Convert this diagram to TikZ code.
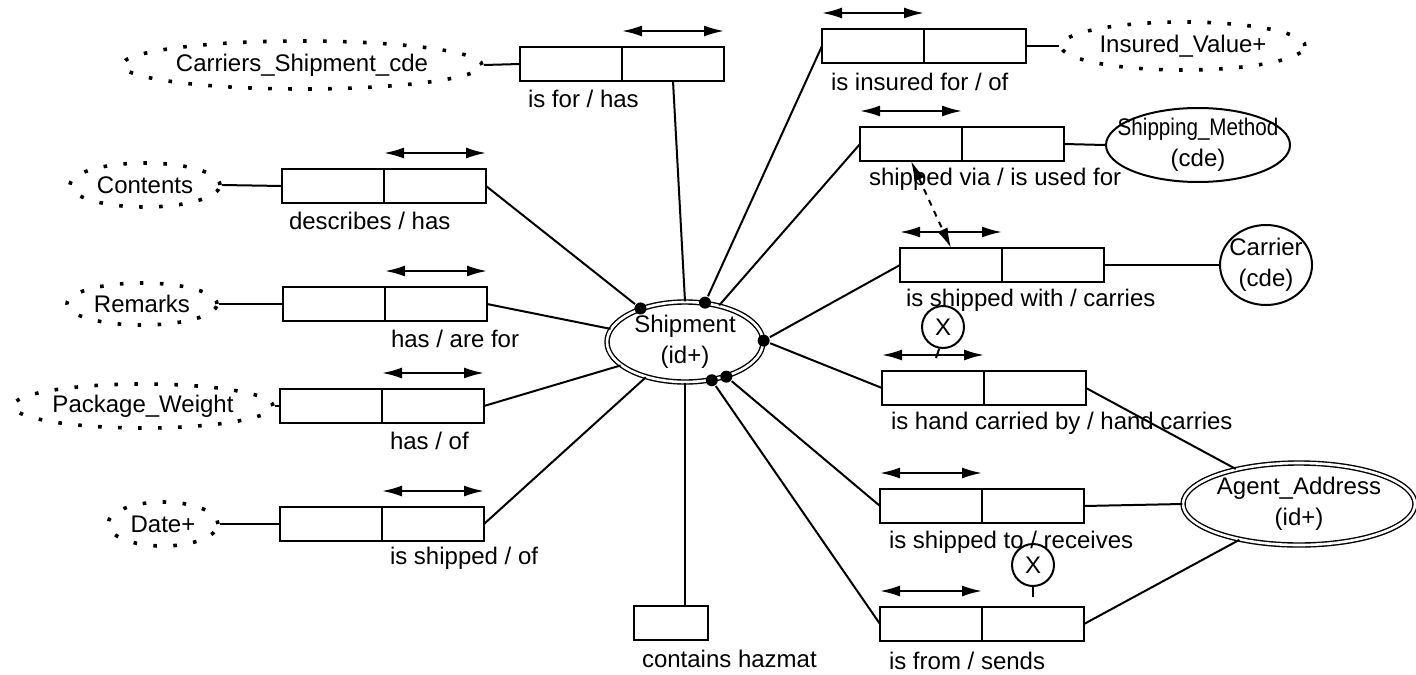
\documentclass[tikz,border=0pt]{standalone}
\usepackage{fontspec}
\setmainfont{Liberation Sans}
\newfontfamily\narrowfont{Liberation Sans}[FakeStretch=0.86]
\usetikzlibrary{shapes.geometric,arrows.meta}
\newcommand{\RelBox}[3]{%
  \node[half, anchor=north west] (#1l) at (#2,#3) {};
  \node[half, anchor=west] (#1r) at (#1l.east) {};}
\newcommand{\ArrR}[1]{\draw[dbl] ([yshift=8pt]#1r.north west) -- ([yshift=8pt]#1r.north east);}
\newcommand{\ArrL}[1]{\draw[dbl] ([yshift=8pt]#1l.north west) -- ([yshift=8pt]#1l.north east);}
\begin{document}
\begin{tikzpicture}[x=0.5pt,y=-0.5pt,line width=1pt,
  font=\fontsize{12}{15.5}\selectfont,
  half/.style={draw, line width=1pt, minimum width=51pt, minimum height=17pt, inner sep=0pt, outer sep=0pt},
  dotent/.style={ellipse, draw, line width=1.8pt, dash pattern=on 1.8pt off 8.2pt, inner sep=0pt},
  ent/.style={ellipse, draw, line width=1pt, inner sep=0pt},
  kent/.style={ellipse, draw, double, line width=0.7pt, double distance=1.3pt, inner sep=0pt},
  txt/.style={align=center, inner sep=0pt},
  dbl/.style={{Latex[length=10pt,width=5.5pt]}-{Latex[length=10pt,width=5.5pt]}, line width=1pt},
  lbl/.style={anchor=west, inner sep=0pt},
  dot/.style={circle, fill, inner sep=0pt, minimum size=6pt},
  xc/.style={circle, draw, line width=1pt, minimum size=21pt, inner sep=0pt},
]
\useasboundingbox (0,0) rectangle (1416,674);

% central entity
\node[kent, minimum width=78pt, minimum height=40pt] (ship) at (685,342) {};
\node[txt] (shipt) at (ship.center) {Shipment\\(id+)};
\node[dot] (d1) at (ship.143) {};
\node[dot] (d2) at (ship.63) {};
\node[dot] (d3) at (ship.1) {};
\node[dot] (d4) at (ship.-55) {};
\node[dot] (d5) at (ship.-40) {};

% attribute entities
\node[dotent, minimum width=180pt, minimum height=24pt] (csc) at (302,65) {};
\node[txt] (csct) at (csc.center) {Carriers\_Shipment\_cde};
\node[dotent, minimum width=75pt, minimum height=22pt] (cont) at (145,185) {};
\node[txt] (contt) at (cont.center) {Contents};
\node[dotent, minimum width=75pt, minimum height=21pt] (rem) at (142,304) {};
\node[txt] (remt) at (rem.center) {Remarks};
\node[dotent, minimum width=130pt, minimum height=22pt] (pw) at (143,406) {};
\node[txt] (pwt) at (pw.center) {Package\_Weight};
\node[dotent, minimum width=55pt, minimum height=22pt] (date) at (163,524) {};
\node[txt] (datet) at (date.center) {Date+};
\node[dotent, minimum width=122pt, minimum height=24pt] (iv) at (1183,46) {};
\node[txt] (ivt) at (iv.center) {Insured\_Value+};
\node[ent, minimum width=92pt, minimum height=37pt] (sm) at (1198,145) {};
\node[txt] (smt) at (sm.center) {{\narrowfont Shipping\_Method}\\(cde)};
\node[ent, minimum width=46pt, minimum height=40pt] (car) at (1266,265) {};
\node[txt] (cart) at (car.center) {Carrier\\(cde)};
\node[kent, minimum width=116pt, minimum height=41pt] (aa) at (1299,504) {};
\node[txt] (aat) at (aa.center) {Agent\_Address\\(id+)};

% relationship boxes
\RelBox{ra}{520}{47}  \ArrR{ra}
\RelBox{rb}{282}{169} \ArrR{rb}
\RelBox{rc}{283}{287} \ArrR{rc}
\RelBox{rd}{280}{389} \ArrR{rd}
\RelBox{re}{280}{507} \ArrR{re}
\node[half, minimum width=37pt, anchor=north west] (rf) at (634,606) {};
\RelBox{rg}{822}{29}  \ArrL{rg}
\RelBox{rh}{860}{127} \ArrL{rh}
\RelBox{ri}{900}{248} \ArrL{ri}
\RelBox{rj}{882}{371} \ArrL{rj}
\RelBox{rk}{880}{489} \ArrL{rk}
\RelBox{rm}{880}{607} \ArrL{rm}

% labels
\node[lbl] (la) at (527,99) {is for / has};
\node[lbl] (lb) at (288,221) {describes / has};
\node[lbl] (lc) at (390,339) {has / are for};
\node[lbl] (ld) at (389,441) {has / of};
\node[lbl] (le) at (389,558) {is shipped / of};
\node[lbl] (lf) at (641,659) {contains hazmat};
\node[lbl] (lg) at (830,82) {is insured for / of};
\node[lbl] (lh) at (868,179) {shipped via / is used for};
\node[lbl] (li) at (905,300) {is shipped with / carries};
\node[lbl] (lj) at (890,423) {is hand carried by / hand carries};
\node[lbl] (lk) at (888,542) {is shipped to / receives};
\node[lbl] (lm) at (888,661) {is from / sends};

% connectors
\draw (csc.east) -- (ral.west);
\draw (rar.south) -- (ship.north);
\draw (cont.east) -- (rbl.west);
\draw (rbr.east) -- (d1);
\draw (rem.east) -- (rcl.west);
\draw (rcr.east) -- (ship.170);
\draw (pw.east) -- (rdl.west);
\draw (rdr.east) -- (ship.200);
\draw (date.east) -- (rel.west);
\draw (rer.east) -- (ship.222);
\draw (ship.south) -- (rf.north -| ship.south);
\draw (rgl.west) -- (d2);
\draw (rgr.east) -- (iv.west);
\draw (rhl.west) -- (ship.47);
\draw (rhr.east) -- (sm.west);
\draw (ril.west) -- (d3);
\draw (rir.east) -- (car.west);
\draw (rjl.west) -- (d3);
\draw (rjr.east) -- (aa.151);
\draw (rkl.west) -- (d5);
\draw (rkr.east) -- (aa.west);
\draw (rml.west) -- (d4);
\draw (rmr.east) -- (aa.211);
\draw[dbl, dashed] (rhl.south) -- (ril.north);

% exclusion marks
\node[xc] (x1) at (943,327) {X};
\coordinate (x1e) at (936,358);
\draw (x1.-100) -- (x1e);
\node[xc] (x2) at (1033,565) {X};
\coordinate (x2e) at (1033,597);
\draw (x2.south) -- (x2e);
\end{tikzpicture}
\end{document}
